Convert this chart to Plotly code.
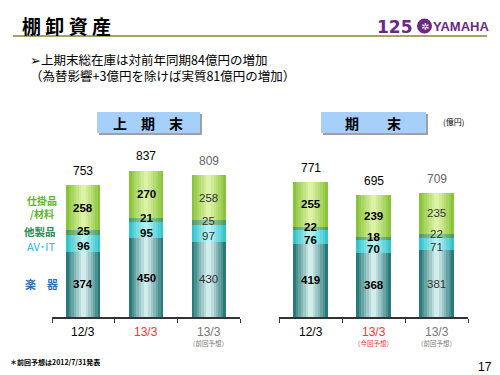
import plotly.graph_objects as go

# ---------------- data ----------------
segments = ["楽器", "AV・IT", "他製品", "仕掛品/材料"]

left_labels = ["12/3", "13/3", "13/3"]
left_sub = ["", "", "（前回予想）"]
left_gakki = [374, 450, 430]
left_avit = [96, 95, 97]
left_other = [25, 21, 25]
left_wip = [258, 270, 258]
left_totals = [753, 837, 809]

right_labels = ["12/3", "13/3", "13/3"]
right_sub = ["", "（今回予想）", "（前回予想）"]
right_gakki = [419, 368, 381]
right_avit = [76, 70, 71]
right_other = [22, 18, 22]
right_wip = [255, 239, 235]
right_totals = [771, 695, 709]

label_colors = ["#000000", "#ff3333", "#777777"]
total_colors = ["#000000", "#000000", "#666666"]
value_bold = [True, True, False]

# edge colour, centre colour per segment
seg_colors = [
    ("#2a7a7a", "#d2ecec"),
    ("#35c4cc", "#b4f2f2"),
    ("#4f9a62", "#9fd0a8"),
    ("#8ac43a", "#dcf2a6"),
]
seg_label_shift = [0, -3, 1.5, 0]

# page has an 8px body margin: figure covers reference pixels 8..500 / 8..375
OFF = 8
W, H = 500 - OFF, 375 - OFF


def hx(c):
    c = c.lstrip("#")
    return [int(c[i:i + 2], 16) for i in (0, 2, 4)]


def mix(a, b, t):
    A, B = hx(a), hx(b)
    return "rgb(%d,%d,%d)" % tuple(round(A[i] + (B[i] - A[i]) * t) for i in range(3))


fig = go.Figure()
NL = 7
annotations = []


def add_chart(xa, ya, vals_list, totals, labels, subs, width):
    xs = [0, 1, 2]
    bases = [0, 0, 0]
    for si, vals in enumerate(vals_list):
        edge, centre = seg_colors[si]
        for li in range(NL):
            t = li / (NL - 1)
            fig.add_trace(go.Bar(
                x=xs, y=vals, base=bases[:], width=width * (1 - li / NL),
                marker=dict(color=mix(edge, centre, t ** 0.9), line=dict(width=0)),
                xaxis=xa, yaxis=ya, showlegend=False, hoverinfo="skip",
            ))
        for i in range(3):
            txt = str(vals[i])
            if value_bold[i]:
                txt = "<b>" + txt + "</b>"
            annotations.append(dict(
                x=xs[i], y=bases[i] + vals[i] / 2, xref=xa, yref=ya, text=txt,
                yshift=seg_label_shift[si],
                showarrow=False, font=dict(size=11.5, family="Liberation Sans",
                                           color="#000" if value_bold[i] else "#333"),
            ))
        bases = [bases[i] + vals[i] for i in range(3)]
    for i in range(3):
        annotations.append(dict(
            x=xs[i], y=totals[i], xref=xa, yref=ya, text=str(totals[i]), yshift=14,
            showarrow=False, font=dict(size=12, family="Liberation Sans", color=total_colors[i]),
        ))
        annotations.append(dict(
            x=xs[i], y=0, xref=xa, yref=ya, text=labels[i], yshift=-14.5,
            showarrow=False, font=dict(size=12, family="Liberation Sans", color=label_colors[i]),
        ))
        if subs[i]:
            annotations.append(dict(
                x=xs[i], y=0, xref=xa, yref=ya, text=subs[i], yshift=-26,
                showarrow=False, font=dict(size=6.5, family="Noto Sans CJK JP", color=label_colors[i]),
            ))


add_chart("x", "y", [left_gakki, left_avit, left_other, left_wip], left_totals, left_labels, left_sub, 0.54)
add_chart("x2", "y2", [right_gakki, right_avit, right_other, right_wip], right_totals, right_labels, right_sub, 0.555)


def px(x):
    return (x - OFF) / W


def py(y):
    return 1 - (y - OFF) / H


def txt(x, y, s, size, color="#000", xanchor="left", family="Noto Sans CJK JP", align="left"):
    annotations.append(dict(x=px(x), y=py(y), xref="paper", yref="paper", text=s,
                            showarrow=False, xanchor=xanchor, yanchor="middle", align=align,
                            font=dict(size=size, color=color, family=family)))


# title & header
txt(20, 25.5, "<b>棚 卸 資 産</b>", 19)
txt(28, 68, "➢上期末総在庫は対前年同期84億円の増加<br>"
            "（為替影響+3億円を除けば実質81億円の増加）", 12.5)
txt(148, 122.5, "<b>上　期　末</b>", 14, xanchor="center")
txt(373, 122.5, "<b>期　　末</b>", 14, xanchor="center")
txt(441, 122, "(億円)", 8)
# logo
txt(375, 26.5, "<b>125</b>", 17, color="#6a2a80", family="DejaVu Sans")
txt(431, 26.5, "<b>YAMAHA</b>", 13, color="#6a2a80", family="Liberation Sans")
txt(424.5, 26, "✲", 10, color="#ffffff", xanchor="center", family="DejaVu Sans")

# legend-like side labels
txt(42, 207, "<b>仕掛品<br>/材料</b>", 10, color="#5cb81e", xanchor="center", align="center")
txt(40, 231, "<b>他製品</b>", 10.5, color="#2f8a55", xanchor="center")
txt(41, 246, "AV･IT", 11, color="#22b8e8", xanchor="center")
txt(41, 284, "<b>楽　器</b>", 11, color="#2e6fb0", xanchor="center")

# footnote & page number
txt(8, 362, "<b>＊前回予想は2012/7/31発表</b>", 7)
txt(494, 367, "17", 12, xanchor="right", family="Liberation Sans")

shapes = [
    dict(type="line", xref="paper", yref="paper", x0=px(13), x1=px(487), y0=py(36), y1=py(36),
         line=dict(color="#a4a46a", width=2)),
    # header boxes shadows + boxes
    dict(type="rect", xref="paper", yref="paper", x0=px(99), x1=px(202), y0=py(135), y1=py(114),
         fillcolor="#a0a0a0", line=dict(width=0)),
    dict(type="rect", xref="paper", yref="paper", x0=px(97), x1=px(200), y0=py(133), y1=py(112),
         fillcolor="#a6d0fa", line=dict(width=0)),
    dict(type="rect", xref="paper", yref="paper", x0=px(323), x1=px(428), y0=py(135), y1=py(114),
         fillcolor="#a0a0a0", line=dict(width=0)),
    dict(type="rect", xref="paper", yref="paper", x0=px(321), x1=px(426), y0=py(133), y1=py(112),
         fillcolor="#a6d0fa", line=dict(width=0)),
    # logo emblem
    dict(type="circle", xref="paper", yref="paper", x0=px(417), x1=px(432), y0=py(33.5), y1=py(18.5),
         fillcolor="#6a2a80", line=dict(width=0)),
]

ymax = 954
axis_common = dict(range=[-0.5, 2.5], tickvals=[-0.5, 0.5, 1.5, 2.5], ticktext=["", "", "", ""],
                   ticks="outside", ticklen=4, tickcolor="#333", showline=True, linecolor="#333",
                   linewidth=1.5, showgrid=False, zeroline=False, fixedrange=True)
yaxis_common = dict(range=[0, ymax], visible=False, showgrid=False, fixedrange=True)

fig.update_layout(
    width=W, height=H, margin=dict(l=0, r=0, t=0, b=0),
    paper_bgcolor="white", plot_bgcolor="rgba(0,0,0,0)",
    barmode="overlay", bargap=0,
    xaxis=dict(domain=[px(52), px(240)], anchor="y", **axis_common),
    yaxis=dict(domain=[py(317), py(150)], anchor="x", **yaxis_common),
    xaxis2=dict(domain=[px(279), px(468)], anchor="y2", **axis_common),
    yaxis2=dict(domain=[py(317), py(150)], anchor="x2", **yaxis_common),
    annotations=annotations, shapes=shapes,
)

fig.write_html("out.html")
